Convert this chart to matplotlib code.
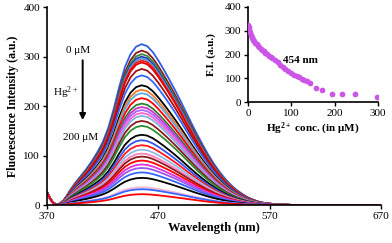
import matplotlib
matplotlib.use("Agg")
import matplotlib.pyplot as plt
import numpy as np

# emission profile of the 0 uM spectrum
wavelength = [370, 373, 376, 379, 382, 385, 388, 391, 395, 400, 405, 410, 415,
              420, 425, 430, 435, 440, 445, 450, 455, 460, 465, 470, 475, 480,
              485, 490, 495, 500, 505, 510, 515, 520, 525, 530, 535, 540, 545,
              550, 555, 560, 565, 570, 580, 590, 600, 620, 640, 670]
top_curve = [0, 0, 1, 1, 4, 10, 20, 31, 44, 58, 72, 88, 106,
             127, 156, 195, 240, 279, 305, 320, 325, 321, 309, 292, 273, 253,
             232, 210, 187, 164, 142, 121, 101, 83, 67, 53, 41, 31, 23,
             16, 11, 7, 4.5, 3, 1.2, 0.4, 0, 0, 0, 0]
# scatter spike near excitation, same on every curve
scatter = [26, 12, 3, 0, 0, 0, 0, 0, 0, 0, 0, 0, 0,
           0, 0, 0, 0, 0, 0, 0, 0, 0, 0, 0, 0, 0,
           0, 0, 0, 0, 0, 0, 0, 0, 0, 0, 0, 0, 0,
           0, 0, 0, 0, 0, 0, 0, 0, 0, 0, 0]

peaks = [325, 312, 305, 300, 296, 292, 288, 275, 262, 242, 233, 226, 216, 205,
         198, 192, 186, 180, 170, 160, 142, 131, 121, 112, 104, 98, 90, 82, 75,
         66, 55, 36, 32, 22]
colors = ["#2e5fe0", "#8b1a1a", "#3c8c3c", "#1f3fbf", "#5b9bd5", "#ff1a1a",
          "#e00000", "#a01010", "#3366ff", "#000000", "#ed7d31", "#5fa8e0",
          "#ff0000", "#2e7d32", "#cc33cc", "#b266ff", "#ff66cc", "#7fb2e5",
          "#8b1a1a", "#2e8b2e", "#000000", "#3355ee", "#ff1a1a", "#8fbce6",
          "#ff7fbf", "#8b1a1a", "#ff0000", "#dd33dd", "#9955ee", "#3366ff",
          "#000000", "#f4b6d6", "#3366ff", "#ff0000"]

# inset: F.I. at 454 nm vs Hg2+ concentration
conc = [0, 1, 2, 3, 4, 6, 8, 10, 12, 14, 17, 20, 23, 26, 29, 32, 36, 40, 44,
        48, 52, 56, 62, 68, 74, 80, 86, 93, 100, 106, 112, 118, 124, 130, 136,
        142, 157, 170, 193, 217, 246, 297]
fi = [323, 315, 308, 300, 293, 283, 275, 268, 262, 256, 250, 243, 237, 231,
      225, 219, 213, 207, 202, 196, 190, 184, 176, 167, 157, 149, 141, 131,
      122, 115, 110, 104, 99, 95, 89, 80, 62, 50, 33, 33, 33, 23]

plt.rcParams.update({
    "font.family": ["Liberation Serif", "DejaVu Serif"],
    "font.size": 8,
    "mathtext.default": "regular",
    "axes.linewidth": 1.2,
})

fig = plt.figure(figsize=(3.92, 2.43), dpi=100)
ax = fig.add_axes([0.12, 0.156, 0.852, 0.815])

wl = np.array(wavelength, dtype=float)
base = np.array(top_curve, dtype=float) / max(top_curve)
spk = np.array(scatter, dtype=float)
for p, c in zip(peaks, colors):
    ax.plot(wl, p * base + spk, color=c, lw=1.3, solid_joinstyle="round")

ax.set_xlim(370, 670)
ax.set_ylim(0, 400)
ax.set_xticks([370, 470, 570, 670])
ax.set_yticks([0, 100, 200, 300, 400])
ax.spines["top"].set_visible(False)
ax.spines["right"].set_visible(False)
ax.tick_params(direction="out", length=3, width=1, labelsize=8, pad=2)
ax.set_xlabel("Wavelength (nm)", fontweight="bold", fontsize=9, labelpad=1)
ax.set_ylabel("Fluorescence Intensity (a.u.)", fontweight="bold", fontsize=8.5, labelpad=3)

ax.text(398, 313, "0 μM", ha="center", va="center", fontsize=8)
ax.text(375, 226, "Hg$^{2+}$", ha="left", va="center", fontsize=8)
ax.text(400, 137, "200 μM", ha="center", va="center", fontsize=8)
ax.annotate("", xy=(402, 166), xytext=(402, 298),
            arrowprops=dict(arrowstyle="-|>", color="black", lw=1.4,
                            mutation_scale=9))

ins = fig.add_axes([0.633, 0.579, 0.331, 0.393])
ins.scatter(conc, fi, s=17, color="#cc55e8", zorder=3, linewidths=0)
ins.set_xlim(0, 300)
ins.set_ylim(0, 400)
ins.set_xticks([0, 100, 200, 300])
ins.set_yticks([0, 100, 200, 300, 400])
ins.spines["top"].set_visible(False)
ins.spines["right"].set_visible(False)
ins.tick_params(direction="out", length=3, width=1, labelsize=8, pad=2)
ins.set_xlabel("Hg$^{2+}$ conc. (in μM)", fontweight="bold", fontsize=8, labelpad=2)
ins.set_ylabel("F.I. (a.u.)", fontweight="bold", fontsize=8, labelpad=6)
ins.text(120, 175, "454 nm", fontweight="bold", fontsize=8, ha="center", va="center")

fig.savefig("out.png", dpi=100)
